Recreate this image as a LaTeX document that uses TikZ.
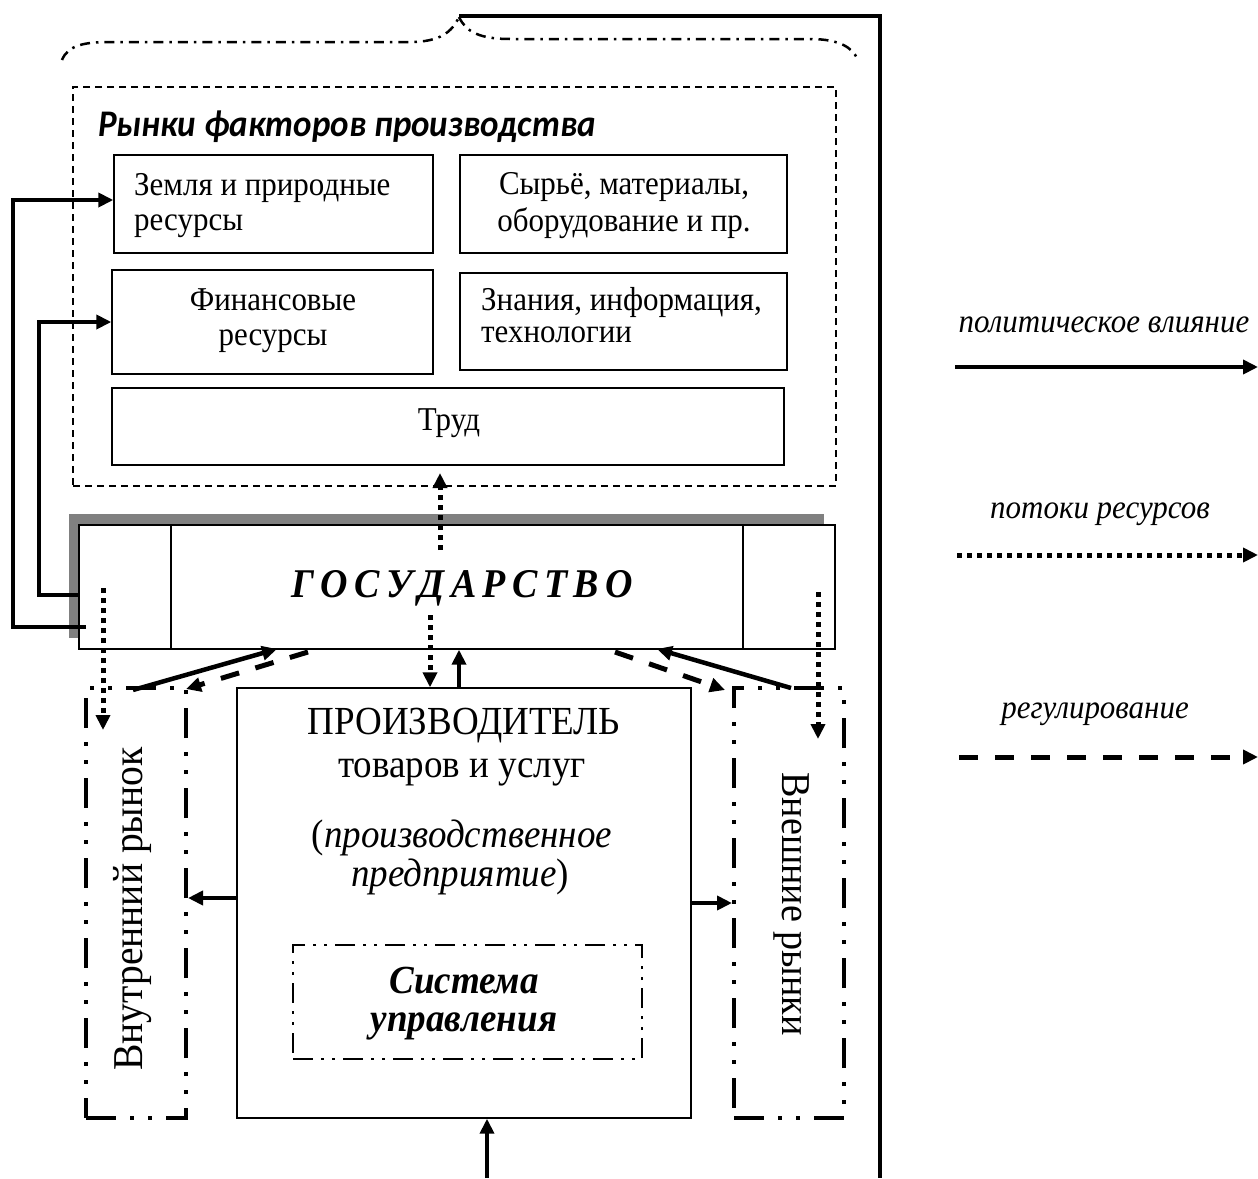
\documentclass[tikz,border=0pt]{standalone}
\usepackage{fontspec}
\setmainfont{Liberation Serif}[FakeStretch=0.93]
\newfontfamily\calfont{Carlito}[FakeStretch=0.93]
\usetikzlibrary{arrows.meta,calc}
\tikzset{
  box/.style={draw, line width=1.4pt, inner sep=0pt, fill=white},
  txt/.style={inner sep=0pt, font=\fontsize{33.3}{36}\selectfont},
  bigtxt/.style={inner sep=0pt, font=\fontsize{39.8}{40}\selectfont},
  lgd/.style={inner sep=0pt, font=\fontsize{33.3}{36}\selectfont\itshape},
  tipA/.style={-{Triangle[length=15pt,width=14pt]}},
  pol/.style={line width=4.5pt, tipA},
  flow/.style={line width=5pt, dash pattern=on 5pt off 5pt, tipA},
  reg/.style={line width=5pt, dash pattern=on 19pt off 17pt, tipA},
  mkt/.style={draw, line width=4pt, inner sep=0pt, dash pattern=on 30pt off 14pt on 4pt off 14pt on 4pt off 14pt},
  sysbox/.style={draw, line width=2.5pt, inner sep=0pt, dash pattern=on 20pt off 8pt on 3pt off 8pt on 3pt off 8pt},
  brace/.style={line width=2.5pt, dash pattern=on 10pt off 6pt on 2.5pt off 6pt},
  outer/.style={draw, line width=1.4pt, inner sep=0pt, dash pattern=on 7pt off 5pt},
  systxt/.style={anchor=base, inner sep=0pt, font=\fontsize{39.8}{40}\selectfont\bfseries\itshape},
}
\newcommand{\gsp}{\hspace{6.4pt}}
\begin{document}
\begin{tikzpicture}[x=1pt,y=-1pt]
\useasboundingbox (0,0) rectangle (1258,1178);

% brace and frame
\coordinate (btip) at (459,17);
\coordinate (bl) at (62,60);
\coordinate (br) at (857,58);
\coordinate (fr1) at (880,16);
\coordinate (fr2) at (880,1178);
\draw[brace] (bl) .. controls (68,45) and (85,42) .. (110,42) -- (410,42) .. controls (440,42) and (452,32) .. (btip);
\draw[brace] (btip) .. controls (466,32) and (480,39) .. (510,39) -- (810,39) .. controls (840,39) and (852,48) .. (br);
\draw[line width=4.5pt] (btip |- fr1) -- (fr1) -- (fr2);

% factor markets
\node[outer, minimum width=763pt, minimum height=399pt] (rf) at (454.5,286.5) {};
\node[anchor=base west, inner sep=0pt, font=\calfont\fontsize{37.6}{40}\selectfont\bfseries\itshape] (rft) at (98,136) {Рынки факторов производства};

\node[box, minimum width=319pt, minimum height=98pt] (zem) at (273.5,204) {};
\node[txt, anchor=base west] (zem1) at (134,195) {Земля и природные};
\node[txt, anchor=base west] (zem2) at (134,230) {ресурсы};

\node[box, minimum width=327pt, minimum height=98pt] (syr) at (623.5,204) {};
\node[txt, anchor=base] (syr1) at (624,194) {Сырьё, материалы,};
\node[txt, anchor=base] (syr2) at (624,231) {оборудование и пр.};

\node[box, minimum width=321pt, minimum height=104pt] (fin) at (272.5,322) {};
\node[txt, anchor=base] (fin1) at (273,310) {Финансовые};
\node[txt, anchor=base] (fin2) at (273,345) {ресурсы};

\node[box, minimum width=327pt, minimum height=97pt] (zna) at (623.5,321.5) {};
\node[txt, anchor=base west] (zna1) at (481,310) {Знания, информация,};
\node[txt, anchor=base west] (zna2) at (481,342) {технологии};

\node[box, minimum width=672pt, minimum height=77pt] (trd) at (448,426.5) {};
\node[txt, anchor=base] (trd1) at (449,430) {Труд};

% state
\node[fill=black!50, inner sep=0pt, minimum width=755pt, minimum height=124pt] (shd) at (446.5,576) {};
\node[box, minimum width=756pt, minimum height=124pt] (gos) at (457,587) {};
\draw[line width=1.4pt] (171,525) -- (171,649) (743,525) -- (743,649);
\node[anchor=base, inner sep=0pt, font=\fontsize{40.8}{40}\selectfont\bfseries\itshape] (gost) at (462,597)
  {Г\gsp О\gsp С\gsp У\gsp Д\gsp А\gsp Р\gsp С\gsp Т\gsp В\gsp О};

% markets and producer
\node[mkt, minimum width=100pt, minimum height=430pt] (vnu) at (136,903) {};
\node[inner sep=0pt, rotate=90, font=\fontsize{42.5}{40}\selectfont] (vnut) at (133,909) {Внутренний рынок};
\node[mkt, minimum width=110pt, minimum height=430pt] (vne) at (789,903) {};
\node[inner sep=0pt, rotate=-90, font=\fontsize{41}{40}\selectfont] (vnet) at (792,904) {Внешние рынки};

\node[box, minimum width=454pt, minimum height=430pt] (prod) at (464,903) {};
\node[bigtxt, anchor=base] (p1) at (464,734) {ПРОИЗВОДИТЕЛЬ};
\node[bigtxt, anchor=base] (p2) at (462,777) {товаров и услуг};
\node[bigtxt, anchor=base] (p3) at (462,847) {(\textit{производственное}};
\node[bigtxt, anchor=base] (p4) at (460,886) {\textit{предприятие})};

\node[sysbox, minimum width=349pt, minimum height=114pt] (sys) at (467.5,1002) {};
\node[systxt] (sys1) at (464,993) {Система};
\node[systxt] (sys2) at (464,1031) {управления};

% political influence
\coordinate (g1) at (86,627);
\coordinate (g2) at (78,595);
\draw[pol] (g1) -- (13,627) -- (13,200) -- (zem.west |- 0,200);
\draw[pol] (g2) -- (39,595) -- (39,322) -- (fin.west);
\draw[pol] ([xshift=-5pt]prod.north) -- ([xshift=-5pt]prod.north |- gos.south);
\coordinate (dl1) at (133,690);
\coordinate (dl2) at (277,649);
\coordinate (dr1) at (791,688);
\coordinate (dr2) at (657,649);
\draw[pol] (dl1) -- (dl2);
\draw[pol] (dr1) -- (dr2);
\coordinate (bot) at (487,1178);
\draw[pol] (bot) -- (bot |- prod.south);
\draw[pol] ([yshift=5pt]prod.west) -- ([yshift=5pt]prod.west -| vnu.east);
\draw[pol] (prod.east) -- (vne.west);

% resource flows
\coordinate (f1) at (440,550);
\draw[flow] (f1) -- (440,473);
\coordinate (f2) at (103,588);
\draw[flow] (f2) -- (103,730);
\coordinate (f3) at (430,615);
\draw[flow] (f3) -- (f3 |- prod.north);
\coordinate (f4) at (818,592);
\draw[flow] (f4) -- (818,739);

% regulation
\coordinate (r1) at (308,652);
\coordinate (r2) at (186,689);
\coordinate (r3) at (615,652);
\coordinate (r4) at (725,690);
\draw[reg] (r1) -- (r2);
\draw[reg] (r3) -- (r4);

% legend
\node[lgd, anchor=base] (l1) at (1104,332) {политическое влияние};
\coordinate (la) at (955,367);
\coordinate (lb) at (1258,367);
\draw[pol] (la) -- (lb);
\node[lgd, anchor=base] (l2) at (1100,518) {потоки ресурсов};
\coordinate (lc) at (957,555);
\coordinate (ld) at (1258,555);
\draw[flow] (lc) -- (ld);
\node[lgd, anchor=base] (l3) at (1095,718) {регулирование};
\coordinate (le) at (959,757);
\coordinate (lf) at (1258,757);
\draw[reg] (le) -- (lf);
\end{tikzpicture}
\end{document}
